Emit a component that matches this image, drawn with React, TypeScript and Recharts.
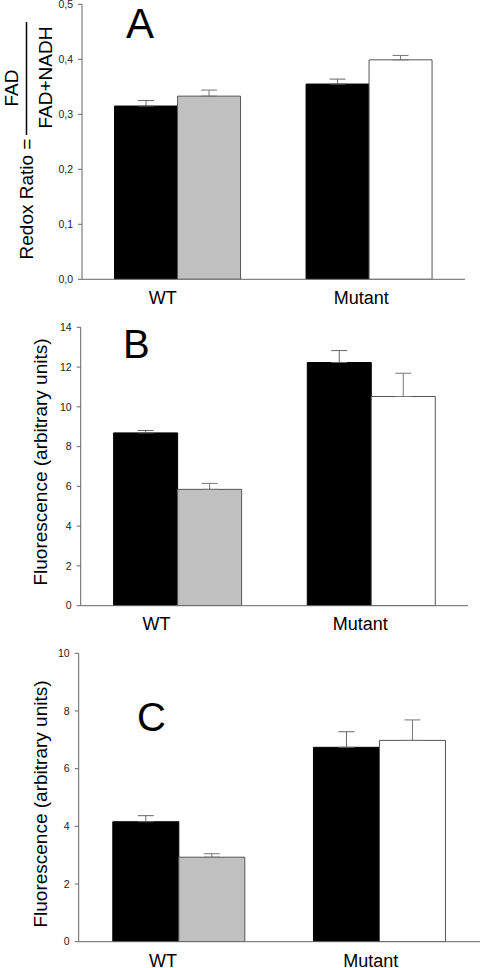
import React from "react"
import { BarChart, Bar, XAxis, YAxis, ErrorBar, Cell } from "recharts"

const categories = ["WT", "Mutant"]

// panel A: redox ratio
const redoxDark = [0.315, 0.355]
const redoxDarkErr = [0.010, 0.009]
const redoxLight = [0.333, 0.399]
const redoxLightErr = [0.011, 0.008]
const redoxTicks = [0, 0.1, 0.2, 0.3, 0.4, 0.5]

// panel B: fluorescence
const fluorBDark = [8.69, 12.23]
const fluorBDarkErr = [0.12, 0.6]
const fluorBLight = [5.85, 10.52]
const fluorBLightErr = [0.3, 1.17]
const fluorBTicks = [0, 2, 4, 6, 8, 10, 12, 14]

// panel C: fluorescence
const fluorCDark = [4.16, 6.74]
const fluorCDarkErr = [0.21, 0.54]
const fluorCLight = [2.93, 6.98]
const fluorCLightErr = [0.12, 0.71]
const fluorCTicks = [0, 2, 4, 6, 8, 10]

const lightFills = ["#c0c0c0", "#ffffff"]

const FONT = "'Liberation Sans', Arial, sans-serif"
const AXIS = "#666"

const buildRows = (dark: number[], darkErr: number[], light: number[], lightErr: number[]) =>
  categories.map((name, i) => ({
    name,
    dark: dark[i],
    light: light[i],
    darkErr: [0, darkErr[i]],
    lightErr: [0, lightErr[i]],
  }))

interface PanelProps {
  top: number
  height: number
  margin: { top: number; right: number; bottom: number; left: number }
  yWidth: number
  xHeight: number
  domain: [number, number]
  ticks: number[]
  fmt?: (v: number) => string
  labelShift: number[]
  labelMargin: number
  children?: React.ReactNode
}

const renderPanel = (p: PanelProps, rows: any[]) => {
  const XTick = (props: any) => {
    const { x, y, payload } = props
    const idx = categories.indexOf(payload.value)
    return (
      <text x={x + (p.labelShift[idx] ?? 0)} y={y} dy="0.71em" textAnchor="middle"
        fontSize={18} fontFamily={FONT} fill="#000">
        {payload.value}
      </text>
    )
  }

  return (
    <div style={{ position: "absolute", left: 0, top: p.top }}>
      <BarChart width={480} height={p.height} data={rows} margin={p.margin}
        barCategoryGap="17%" barGap={0}>
        <XAxis dataKey="name" height={p.xHeight} tickLine={false} tickSize={0}
          tickMargin={p.labelMargin} axisLine={{ stroke: AXIS }} tick={<XTick />} interval={0} />
        <YAxis width={p.yWidth} domain={p.domain} ticks={p.ticks} interval={0}
          allowDataOverflow tickFormatter={p.fmt} tickSize={4} tickMargin={5}
          axisLine={{ stroke: AXIS }} tickLine={{ stroke: AXIS }}
          tick={{ fontSize: 10.5, fill: "#222", fontFamily: FONT }} />
        <Bar dataKey="dark" fill="#000" stroke="#000" isAnimationActive={false}>
          <ErrorBar dataKey="darkErr" width={8} stroke="#666" strokeWidth={1} direction="y" />
        </Bar>
        <Bar dataKey="light" stroke="#555" strokeWidth={1} isAnimationActive={false}>
          {rows.map((_, i) => (
            <Cell key={i} fill={lightFills[i]} />
          ))}
          <ErrorBar dataKey="lightErr" width={8} stroke="#777" strokeWidth={1} direction="y" />
        </Bar>
        {p.children}
      </BarChart>
    </div>
  )
}

const rot = (x: number, y: number) => `rotate(-90, ${x}, ${y})`

const textStyle = { fontFamily: FONT, fill: "#000" }

export default function App() {
  const rowsA = buildRows(redoxDark, redoxDarkErr, redoxLight, redoxLightErr)
  const rowsB = buildRows(fluorBDark, fluorBDarkErr, fluorBLight, fluorBLightErr)
  const rowsC = buildRows(fluorCDark, fluorCDarkErr, fluorCLight, fluorCLightErr)

  return (
    <div style={{ position: "absolute", left: 0, top: 0, width: 480, height: 968, background: "#fff", overflow: "hidden" }}>
      {renderPanel({
        top: 0, height: 315,
        margin: { top: 4.3, right: 15, bottom: 5.7, left: 0 },
        yWidth: 82, xHeight: 30, domain: [0, 0.5], ticks: redoxTicks,
        fmt: (v: number) => v.toFixed(1).replace(".", ","),
        labelShift: [-15, -8], labelMargin: 12,
        children: (
          <g>
            <text x={126} y={38} fontSize={42} {...textStyle}>A</text>
            <text x={18} y={88} transform={rot(18, 88)} textAnchor="middle" fontSize={19} {...textStyle}>FAD</text>
            <line x1={26.5} x2={26.5} y1={22} y2={135} stroke="#000" strokeWidth={1.5} />
            <text x={52} y={77.5} transform={rot(52, 77.5)} textAnchor="middle" fontSize={19} {...textStyle}>FAD+NADH</text>
            <text x={33} y={199} transform={rot(33, 199)} textAnchor="middle" fontSize={19} {...textStyle}>Redox Ratio =</text>
          </g>
        ),
      }, rowsA)}
      {renderPanel({
        top: 315, height: 325,
        margin: { top: 12.3, right: 12, bottom: 4.3, left: 0 },
        yWidth: 80.7, xHeight: 30, domain: [0, 14], ticks: fluorBTicks,
        labelShift: [-21, -11], labelMargin: 12,
        children: (
          <g>
            <text x={123} y={43} fontSize={40} {...textStyle}>B</text>
            <text x={47} y={147} transform={rot(47, 147)} textAnchor="middle" fontSize={19} {...textStyle}>Fluorescence (arbitrary units)</text>
          </g>
        ),
      }, rowsB)}
      {renderPanel({
        top: 640, height: 328,
        margin: { top: 13.3, right: 0, bottom: 0.3, left: 0 },
        yWidth: 78.7, xHeight: 26, domain: [0, 10], ticks: fluorCTicks,
        labelShift: [-16, -9], labelMargin: 13,
        children: (
          <g>
            <text x={137} y={91} fontSize={40} {...textStyle}>C</text>
            <text x={47} y={164} transform={rot(47, 164)} textAnchor="middle" fontSize={19} {...textStyle}>Fluorescence (arbitrary units)</text>
          </g>
        ),
      }, rowsC)}
    </div>
  )
}
